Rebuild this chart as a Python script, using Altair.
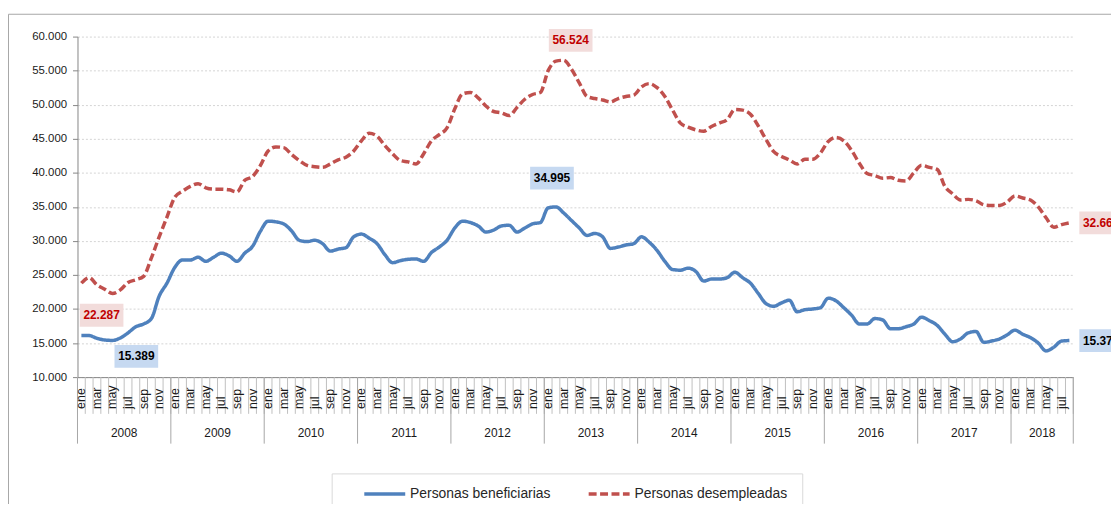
import altair as alt
import pandas as pd

MESES = ["ene", "feb", "mar", "abr", "may", "jun", "jul", "ago", "sep", "oct", "nov", "dic"]
ANIOS = [2008, 2009, 2010, 2011, 2012, 2013, 2014, 2015, 2016, 2017, 2018]
SERIES = ["Personas beneficiarias", "Personas desempleadas"]

beneficiarias = [
    16100, 16100, 15700, 15450, 15389, 15750, 16500, 17400, 17800, 18600, 21900, 23800,
    26100, 27200, 27200, 27600, 27000, 27600, 28200, 27800, 27000, 28200, 29200, 31400,
    32900, 32800, 32500, 31500, 30100, 29900, 30100, 29600, 28500, 28800, 29000, 30600,
    31000, 30400, 29600, 28000, 26800, 27100, 27300, 27350, 27000, 28300, 29100, 30100,
    31900, 32900, 32700, 32200, 31300, 31600, 32200, 32300, 31300, 31900, 32500, 32700,
    34850, 34995, 34100, 33000, 31900, 30800, 31100, 30600, 28900, 29100, 29400, 29600,
    30600, 29800, 28600, 27000, 25800, 25700, 26000, 25500, 24100, 24400, 24400, 24600,
    25400, 24600, 23800, 22300, 20800, 20400, 20900, 21300, 19600, 19900, 20000, 20200,
    21600, 21200, 20200, 19100, 17800, 17800, 18600, 18400, 17100, 17100, 17400, 17800,
    18800, 18300, 17600, 16300, 15200, 15600, 16500, 16700, 15100, 15300, 15600, 16200,
    16900, 16300, 15800, 15000, 13850, 14400, 15300, 15370,
]

desempleadas = [
    23800, 24600, 23550, 22900, 22287, 22800, 23900, 24300, 24800, 27500, 30600, 33500,
    36400, 37300, 38000, 38400, 37800, 37600, 37600, 37500, 37200, 38900, 39450, 41050,
    43200, 43800, 43700, 42700, 41800, 41100, 40900, 40800, 41300, 41900, 42300, 43200,
    44700, 45800, 45400, 44000, 42800, 41800, 41600, 41300, 42800, 44700, 45600, 46600,
    49400, 51600, 51800, 51000, 49800, 49000, 48800, 48400, 49600, 50800, 51500, 51800,
    55000, 56400, 56524, 55200, 53200, 51200, 50900, 50700, 50400, 50900, 51200, 51400,
    52600, 53100, 52500, 51200, 49200, 47300, 46700, 46300, 46100, 46800, 47300, 47800,
    49300, 49200, 48600, 46900, 44900, 43100, 42400, 41900, 41300, 42000, 42000, 42900,
    44600, 45200, 44700, 43300, 41400, 39900, 39600, 39200, 39300, 38900, 38800, 40000,
    41100, 40800, 40500, 38000, 36900, 36000, 36100, 35900, 35300, 35200, 35200, 35700,
    36600, 36300, 36000, 35000, 33400, 32000, 32400, 32660,
]

Y_TICKS = [10000, 15000, 20000, 25000, 30000, 35000, 40000, 45000, 50000, 55000, 60000]

# annotated points (month index) for each series
ANOTADOS_BEN = [4, 61, 127]
ANOTADOS_DES = [4, 62, 127]

# ---------------- styles ----------------
FONT = "Liberation Sans"
BLUE = "#4F81BD"
RED = "#C0504D"
W, H = 1003, 343
N = len(beneficiarias)
grey_axis = "#868686"

# ---------------- tables ----------------
rows = []
for serie, vals in zip(SERIES, [beneficiarias, desempleadas]):
    for i, v in enumerate(vals):
        rows.append({"serie": serie, "xc": i + 0.5, "valor": v})
df = pd.DataFrame(rows)

df_bounds = pd.DataFrame({"xc": list(range(N + 1))})
year_b = [i for i in range(0, N, 12)] + [N]
df_ybounds = pd.DataFrame({"xc": year_b})
df_mes = pd.DataFrame([{"xc": i + 0.5, "mes": MESES[i % 12]} for i in range(0, N, 2)])
df_anio = pd.DataFrame([
    {"xc": (year_b[k] + year_b[k + 1]) / 2, "anio": str(a)} for k, a in enumerate(ANIOS)
])


def fmt(v):
    return f"{v:,}".replace(",", ".")


X_AXIS = alt.Axis(labels=False, ticks=False, grid=False, title=None,
                  domainColor=grey_axis, domainWidth=1)
Y_AXIS = alt.Axis(values=Y_TICKS, title=None,
                  labelExpr="replace(format(datum.value, ',.0f'), ',', '.')",
                  labelFont=FONT, labelFontSize=11.5, labelColor="#1a1a1a",
                  labelPadding=6, tickSize=5, tickColor=grey_axis,
                  domainColor=grey_axis, grid=True, gridColor="#D4D4D4",
                  gridDash=[2, 2], gridWidth=1)
X_SCALE = alt.Scale(domain=[0, N], nice=False, zero=False)
Y_SCALE = alt.Scale(domain=[10000, 60000], nice=False, zero=False)


def xe():
    return alt.X("xc:Q", scale=X_SCALE, axis=X_AXIS)


def ye():
    return alt.Y("valor:Q", scale=Y_SCALE, axis=Y_AXIS)


legend = alt.Legend(
    title=None, orient="none", legendX=287, legendY=438, direction="horizontal",
    symbolType="stroke", symbolSize=1700, symbolStrokeWidth=3.5,
    labelFont=FONT, labelFontSize=14, labelColor="#262626",
    columnPadding=30, labelOffset=3, padding=0,
)

frame = alt.Chart(pd.DataFrame({"a": [0]})).mark_rect(
    filled=False, stroke="#A6A6A6", strokeWidth=1
).encode(x=alt.value(-69.5), x2=alt.value(1100), y=alt.value(-22.5), y2=alt.value(700))

legend_box = alt.Chart(pd.DataFrame({"a": [0]})).mark_rect(
    fill="white", stroke="#D9D9D9", strokeWidth=1
).encode(x=alt.value(256.5), x2=alt.value(730.5), y=alt.value(440.5), y2=alt.value(476))

lines = alt.Chart(df).mark_line(interpolate="monotone", strokeWidth=3.5).encode(
    x=xe(),
    y=ye(),
    color=alt.Color("serie:N", scale=alt.Scale(domain=SERIES, range=[BLUE, RED]), legend=legend),
    strokeDash=alt.StrokeDash("serie:N", scale=alt.Scale(domain=SERIES, range=[[1, 0], [8, 3.5]]),
                              legend=legend),
)

month_ticks = alt.Chart(df_bounds).mark_rule(color="#BFBFBF", strokeWidth=1).encode(
    x=xe(), y=alt.value(H), y2=alt.value(380),
)
year_ticks = alt.Chart(df_ybounds).mark_rule(color="#A6A6A6", strokeWidth=1).encode(
    x=xe(), y=alt.value(H), y2=alt.value(410),
)
month_labels = alt.Chart(df_mes).mark_text(
    angle=270, align="left", baseline="middle", font=FONT, fontSize=12.5, color="#1a1a1a"
).encode(x=xe(), y=alt.value(375), text="mes:N")
year_labels = alt.Chart(df_anio).mark_text(
    align="center", baseline="middle", font=FONT, fontSize=12, color="#1a1a1a"
).encode(x=xe(), y=alt.value(399), text="anio:N")

# annotation labels (pixel offsets are style only)
annots = [
    (beneficiarias, ANOTADOS_BEN[0], 24, 16, "#C6D9F1", "#000000"),
    (beneficiarias, ANOTADOS_BEN[1], -4, -29, "#C6D9F1", "#000000"),
    (beneficiarias, ANOTADOS_BEN[2], 32, 0, "#C6D9F1", "#000000"),
    (desempleadas, ANOTADOS_DES[0], -11, 22, "#F2DCDB", "#C00000"),
    (desempleadas, ANOTADOS_DES[1], 7, -20, "#F2DCDB", "#C00000"),
    (desempleadas, ANOTADOS_DES[2], 32, 0, "#F2DCDB", "#C00000"),
]
label_layers = []
for vals, i, dx, dy, bg, fg in annots:
    d = pd.DataFrame([{"xc": i + 0.5, "valor": vals[i], "t": fmt(vals[i])}])
    box = alt.Chart(d).mark_rect(width=44, height=23, color=bg, xOffset=dx, yOffset=dy).encode(
        x=xe(), y=ye())
    txt = alt.Chart(d).mark_text(font=FONT, fontSize=12, fontWeight="bold", color=fg,
                                 dx=dx, dy=dy, align="center", baseline="middle").encode(
        x=xe(), y=ye(), text="t:N")
    label_layers += [box, txt]

chart = alt.layer(
    frame, legend_box, month_ticks, year_ticks, month_labels, year_labels, lines, *label_layers
).properties(
    width=W, height=H,
    autosize=alt.AutoSizeParams(type="none"),
    padding={"left": 70, "top": 27, "right": 38, "bottom": 126},
    background="white",
).configure_view(stroke=None)

chart.save("out.html", embed_options={"renderer": "svg", "actions": False})
